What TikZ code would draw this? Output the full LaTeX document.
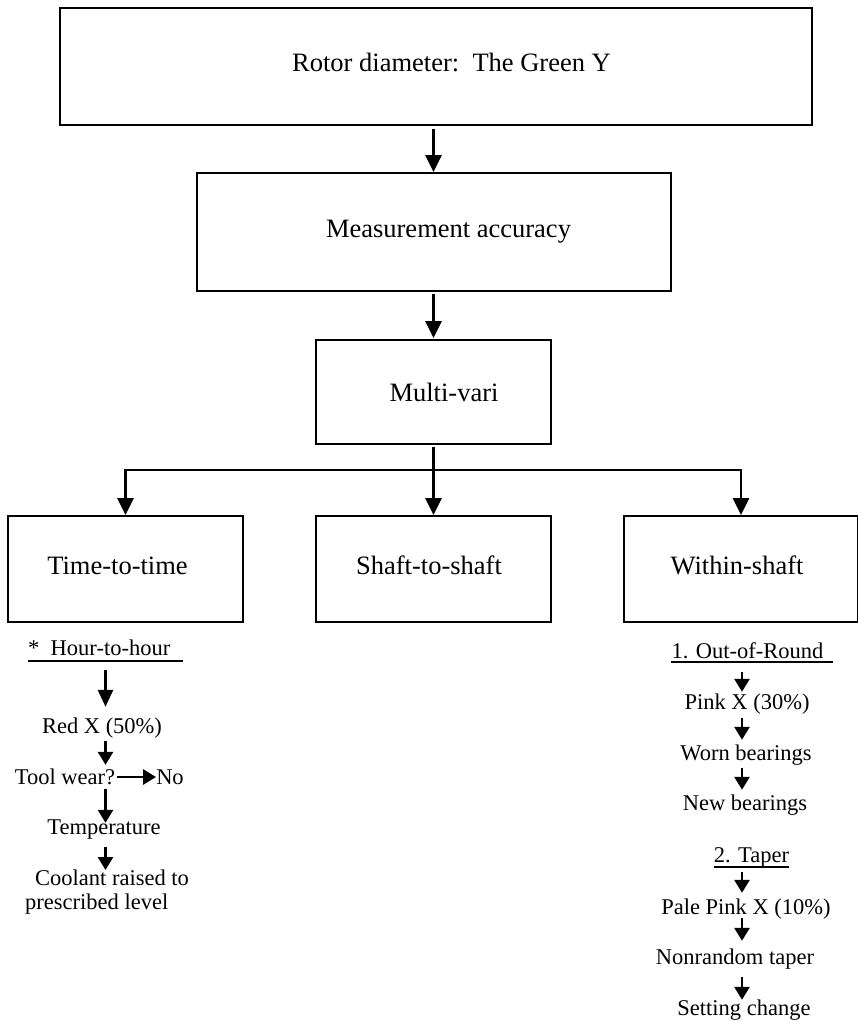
\documentclass[tikz,border=0pt]{standalone}
\usepackage{fontspec}
\setmainfont{Liberation Serif}
\usetikzlibrary{arrows.meta}

\begin{document}
\begin{tikzpicture}[x=1pt,y=-1pt,
  box/.style={draw, line width=1.8pt, inner sep=0pt,
    font=\fontsize{26.5}{30}\selectfont, text height=18pt, text depth=8pt},
  txt/.style={inner sep=0pt, font=\fontsize{22.5}{24}\selectfont,
    text height=15pt, text depth=0pt},
  lines/.style={inner sep=0pt, font=\fontsize{22.5}{24}\selectfont, align=left},
  link/.style={line width=2.7pt},
  arr/.style={link, -{Triangle[length=17pt,width=16pt]}},
  sarr/.style={link, -{Triangle[length=13pt,width=15pt]}},
  uline/.style={line width=1.5pt}]

\useasboundingbox (0,0) rectangle (858,1021);

% main chain of boxes
\node[box, minimum width=752pt, minimum height=117pt] (top) at (436,66.5)
  {\hspace*{31pt}Rotor diameter:\ \ The Green Y};
\node[box, minimum width=474pt, minimum height=118pt] (meas) at (434,232)
  {\hspace*{29pt}Measurement accuracy};
\node[box, minimum width=235pt, minimum height=104pt, text depth=0pt] (multi) at (433.5,392)
  {\hspace*{21pt}Multi-vari};
\node[box, minimum width=235pt, minimum height=106pt] (t2t) at (125.5,569)
  {Time-to-time\hspace*{16pt}};
\node[box, minimum width=235pt, minimum height=106pt] (s2s) at (433.5,569)
  {Shaft-to-shaft\hspace*{9pt}};
\node[box, minimum width=234pt, minimum height=106pt] (wit) at (741,569)
  {Within-shaft\hspace*{8pt}};

\draw[arr, shorten <=3pt] (top.south -| multi.north) -- (meas.north -| multi.north);
\draw[arr, shorten <=2pt, shorten >=1pt] (meas.south -| multi.north) -- (multi.north);
\coordinate (split) at (433.5,470);
\draw[arr, shorten <=2pt] (multi.south) -- (s2s.north);
\draw[arr] (split) -| (t2t.north);
\draw[arr] (split) -| (wit.north);

% time-to-time column
\coordinate (colL) at (105.5,0);
\node[txt] (h1) at (105.5,648) {*\ \ Hour-to-hour\hspace*{12.5pt}};
\draw[uline] ([yshift=-5.5pt]h1.south west) -- ([yshift=-5.5pt]h1.south east);
\node[txt] (redx) at (102,726) {Red X (50\%)};
\node[txt] (tool) at (65,777) {Tool wear?};
\node[txt] (no) at (170,777) {No};
\node[txt] (temp) at (104,827) {Temperature};
\node[lines, anchor=north west] (cool) at (25,870)
  {\hspace*{10pt}Coolant raised to\\prescribed level};

\draw[link, -{Triangle[length=17pt,width=15pt]}, shorten <=14.5pt, shorten >=11.5pt]
  (h1.south -| colL) -- (redx.north -| colL);
\draw[sarr, shorten <=7.5pt, shorten >=4.5pt] (redx.south -| colL) -- (tool.north -| colL);
\draw[sarr, shorten <=2pt] (tool.east) -- (no.west);
\draw[sarr, shorten <=4.5pt, shorten >=-3.5pt] (tool.south -| colL) -- (temp.north -| colL);
\draw[sarr, shorten <=12.5pt] (temp.south -| colL) -- (cool.north -| colL);

% within-shaft column
\coordinate (colR) at (742,0);
\node[txt] (oor) at (752,651) {1. Out-of-Round\hspace*{9pt}};
\draw[uline] ([yshift=-3.5pt]oor.south west) -- ([yshift=-3.5pt]oor.south east);
\node[txt] (pink) at (747,702) {Pink X (30\%)};
\node[txt] (worn) at (746,753) {Worn bearings};
\node[txt] (newb) at (745,803) {New bearings};
\node[txt] (taper) at (751.5,855) {2. Taper};
\draw[uline] ([yshift=-4.5pt]taper.south west) -- ([yshift=-4.5pt]taper.south east);
\node[txt] (pale) at (746,907) {Pale Pink X (10\%)};
\node[txt] (nonr) at (735,957) {Nonrandom taper};
\node[txt] (setc) at (744,1008) {Setting change};

\draw[sarr, shorten <=13.5pt, shorten >=2.5pt] (oor.south -| colR) -- (pink.north -| colR);
\draw[sarr, shorten <=8.5pt, shorten >=5.5pt] (pink.south -| colR) -- (worn.north -| colR);
\draw[sarr, shorten <=7.5pt, shorten >=5.5pt] (worn.south -| colR) -- (newb.north -| colR);
\draw[sarr, shorten <=9.5pt, shorten >=6.5pt] (taper.south -| colR) -- (pale.north -| colR);
\draw[sarr, shorten <=3.5pt, shorten >=8.5pt] (pale.south -| colR) -- (nonr.north -| colR);
\draw[sarr, shorten <=12.5pt, shorten >=0.5pt] (nonr.south -| colR) -- (setc.north -| colR);
\end{tikzpicture}
\end{document}
